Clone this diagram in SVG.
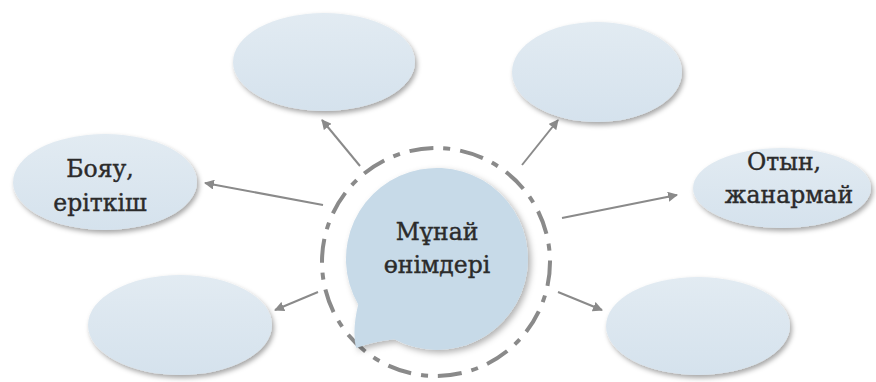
<svg xmlns="http://www.w3.org/2000/svg" width="876" height="382" viewBox="0 0 876 382">
<defs>
  <filter id="sh" x="-20%" y="-20%" width="140%" height="150%">
    <feDropShadow dx="2" dy="3" stdDeviation="2.5" flood-color="#000" flood-opacity="0.35"/>
  </filter>
  <filter id="shb" x="-20%" y="-20%" width="140%" height="140%">
    <feDropShadow dx="3" dy="3" stdDeviation="3" flood-color="#000" flood-opacity="0.3"/>
  </filter>
  <linearGradient id="eg" x1="0" y1="0" x2="0" y2="1">
    <stop offset="0" stop-color="#e2ebf2"/>
    <stop offset="1" stop-color="#d5e2ed"/>
  </linearGradient>
  <marker id="ah" viewBox="0 0 10 10" refX="9" refY="5" markerWidth="5" markerHeight="5" orient="auto" markerUnits="strokeWidth">
    <path d="M0,0 L10,5 L0,10 Z" fill="#8a8a8a"/>
  </marker>
</defs>
<style>
  .node ellipse { fill: url(#eg); filter: url(#sh); }
  .lbl { font-family: "DejaVu Serif", "Liberation Serif", serif; font-size: 23.5px; fill: #2b2b2b; stroke: #2b2b2b; stroke-width: 0.4; text-anchor: middle; }
  .conn line { stroke: #8a8a8a; stroke-width: 2; marker-end: url(#ah); }
</style>
<rect width="876" height="382" fill="#fff"/>

<g id="connectors" class="conn">
  <line x1="360" y1="166" x2="322" y2="120"/>
  <line x1="522" y1="165" x2="558" y2="120"/>
  <line x1="323" y1="205" x2="205" y2="183"/>
  <line x1="562" y1="218" x2="677" y2="195"/>
  <line x1="318" y1="292" x2="275" y2="310"/>
  <line x1="558" y1="292" x2="602" y2="310"/>
</g>

<g id="node-top-left" class="node">
  <ellipse cx="324" cy="62" rx="91" ry="49"/>
</g>
<g id="node-top-right" class="node">
  <ellipse cx="597" cy="72" rx="85" ry="50"/>
</g>
<g id="node-left" class="node">
  <ellipse cx="105" cy="182" rx="92" ry="48"/>
  <text class="lbl" x="100" y="177">Бояу,</text>
  <text class="lbl" x="100" y="211">еріткіш</text>
</g>
<g id="node-right" class="node">
  <ellipse cx="782" cy="188" rx="89" ry="40"/>
  <text class="lbl" x="784" y="170">Отын,</text>
  <text class="lbl" x="789" y="203">жанармай</text>
</g>
<g id="node-bottom-left" class="node">
  <ellipse cx="180" cy="325" rx="92" ry="50"/>
</g>
<g id="node-bottom-right" class="node">
  <ellipse cx="698" cy="326" rx="92" ry="49"/>
</g>

<g id="node-center">
  <circle cx="436" cy="262" r="114" fill="none" stroke="#8a8a8a" stroke-width="4" stroke-dasharray="24 10 7 10"/>
  <path d="M358.2,304.5 Q352,330 356,348 Q372,342 394.3,339.3 A91,91 0 1 0 358.2,304.5 Z" fill="#c7dae8" filter="url(#shb)"/>
  <text class="lbl" x="437" y="240">Мұнай</text>
  <text class="lbl" x="437" y="273">өнімдері</text>
</g>
</svg>
